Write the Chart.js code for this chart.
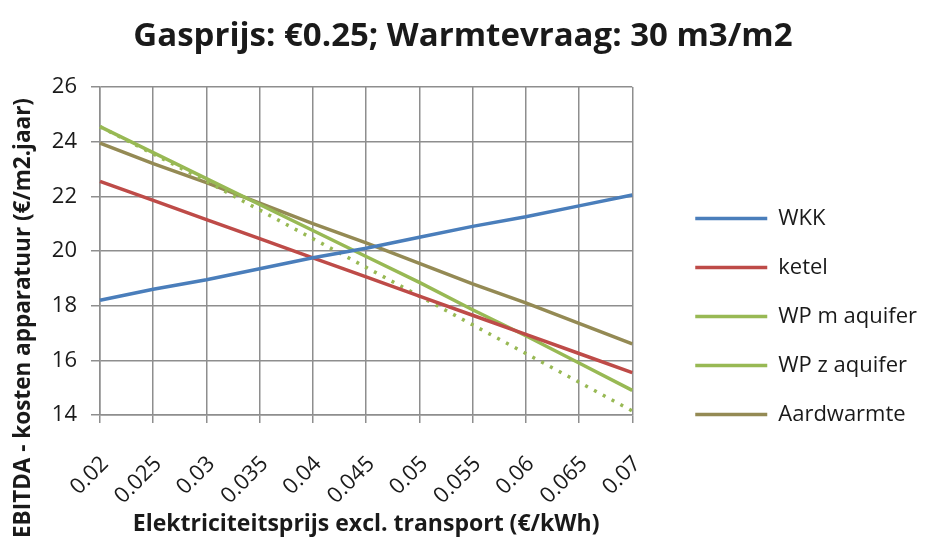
<!DOCTYPE html>
<html>
<head>
<meta charset="utf-8">
<script src="https://cdn.jsdelivr.net/npm/chart.js@4"></script>
<style>
  html, body { margin: 0; padding: 0; background: #fff; }
  #wrap { width: 926px; height: 543px; }
</style>
</head>
<body>
<div id="wrap"><canvas id="grafiek"></canvas></div>
<script>
// elektriciteitsprijs (x-as)
const prijzen = ["0.02", "0.025", "0.03", "0.035", "0.04", "0.045", "0.05", "0.055", "0.06", "0.065", "0.07"];

// EBITDA - kosten apparatuur per techniek
const wkk      = [18.2, 18.6, 18.95, 19.35, 19.75, 20.1, 20.5, 20.9, 21.25, 21.65, 22.05];
const ketel    = [22.55, 21.85, 21.15, 20.45, 19.75, 19.05, 18.35, 17.65, 16.95, 16.25, 15.55];
const wpMet    = [24.55, 23.6, 22.65, 21.7, 20.75, 19.8, 18.85, 17.85, 16.9, 15.9, 14.9];
const wpZonder = [24.55, 23.55, 22.55, 21.5, 20.45, 19.4, 18.35, 17.3, 16.25, 15.2, 14.15];
const aard     = [23.95, 23.2, 22.5, 21.75, 21.0, 20.3, 19.55, 18.8, 18.1, 17.35, 16.6];

const yTicks = [14, 16, 18, 20, 22, 24, 26];

const titel = "Gasprijs: €0.25; Warmtevraag: 30 m3/m2";
const xTitel = "Elektriciteitsprijs excl. transport (€/kWh)";
const yTitel = "EBITDA - kosten apparatuur (€/m2.jaar)";

const tekstKleur = "#1a1a1a";
const rasterKleur = "#8e8e8e";
const lettertype = "'Open Sans'";

// y-as titel staat lager dan het midden van de grafiek, dus zelf tekenen
const yTitelPlugin = {
    id: "yTitel",
    afterDraw(chart) {
        const ctx = chart.ctx;
        ctx.save();
        ctx.translate(24, 318);
        ctx.rotate(-Math.PI / 2);
        ctx.font = "bold 22.5px " + lettertype;
        ctx.fillStyle = tekstKleur;
        ctx.textAlign = "center";
        ctx.textBaseline = "middle";
        ctx.fillText(yTitel, 0, 0);
        ctx.restore();
    }
};

// legenda naast de grafiek zetten, iets lager dan het midden;
// titel over de volle breedte centreren
const legendaPlugin = {
    id: "legendaSchuif",
    afterLayout(chart) {
        const l = chart.legend;
        l.left = chart.chartArea.right + 36;
        l.right = chart.width;
        l.width = l.right - l.left;
        l.top += 45;
        l.bottom += 45;

        const t = chart.titleBlock;
        t.left = 0;
        t.right = chart.width;
        t.width = chart.width;
    }
};

function lijn(label, data, kleur, extra) {
    return Object.assign({
        label: label,
        data: data,
        borderColor: kleur,
        backgroundColor: kleur,
        borderWidth: 3.5,
        pointRadius: 0,
        pointHoverRadius: 0,
        tension: 0,
        fill: false
    }, extra || {});
}

const ctx = document.getElementById("grafiek").getContext("2d");
new Chart(ctx, {
    type: "line",
    data: {
        labels: prijzen,
        datasets: [
            lijn("WKK", wkk, "#4a7ebb"),
            lijn("ketel", ketel, "#be4b48"),
            lijn("WP m aquifer", wpMet, "#98b954"),
            lijn("WP z aquifer", wpZonder, "#98b954", { borderDash: [3, 7] }),
            lijn("Aardwarmte", aard, "#948a54")
        ]
    },
    options: {
        responsive: true,
        maintainAspectRatio: false,
        animation: false,
        layout: { padding: { left: 0, right: 83, top: 0, bottom: 0 } },
        plugins: {
            title: {
                display: true,
                text: titel,
                color: tekstKleur,
                font: { family: lettertype, size: 33, weight: "bold" },
                padding: { top: 17, bottom: 30.4 }
            },
            legend: {
                position: "right",
                align: "center",
                labels: {
                    usePointStyle: true,
                    pointStyle: "line",
                    pointStyleWidth: 72,
                    boxWidth: 72,
                    padding: 27,
                    color: tekstKleur,
                    font: { family: lettertype, size: 22 }
                }
            },
            tooltip: { enabled: false }
        },
        scales: {
            x: {
                grid: { color: rasterKleur, lineWidth: 1.5, tickLength: 8 },
                border: { color: rasterKleur, width: 1.5 },
                ticks: {
                    color: tekstKleur,
                    font: { family: lettertype, size: 22 },
                    maxRotation: 45,
                    minRotation: 45,
                    padding: 28,
                    labelOffset: 5
                },
                title: {
                    display: true,
                    text: xTitel,
                    color: tekstKleur,
                    font: { family: lettertype, size: 23, weight: "bold" },
                    padding: { top: 8, bottom: 5 }
                },
                afterFit(scale) { scale.height = 128; }
            },
            y: {
                min: 14,
                max: 26,
                afterBuildTicks(scale) { scale.ticks = yTicks.map(v => ({ value: v })); },
                grid: { color: rasterKleur, lineWidth: 1.5, tickLength: 9 },
                border: { color: rasterKleur, width: 1.5 },
                ticks: {
                    color: tekstKleur,
                    font: { family: lettertype, size: 22 },
                    padding: 14
                },
                afterFit(scale) { scale.width = 100; }
            }
        }
    },
    plugins: [yTitelPlugin, legendaPlugin]
});
</script>
</body>
</html>
